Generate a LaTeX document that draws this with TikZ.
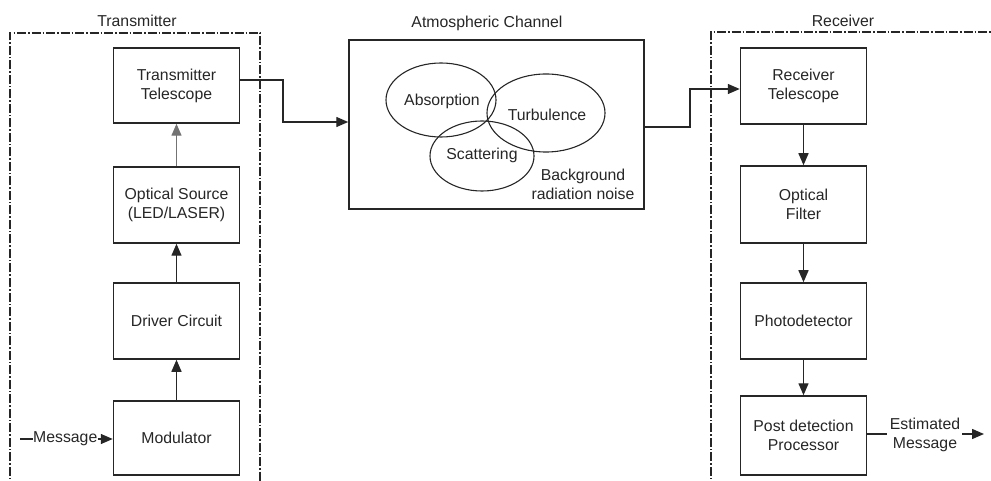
\documentclass[tikz,border=0pt]{standalone}
\usepackage{fontspec}
\setmainfont{Liberation Sans}
\usetikzlibrary{arrows.meta,calc}
\begin{document}
\begin{tikzpicture}[x=1pt,y=-1pt,
  txt/.style={font=\fontsize{15.8}{19}\selectfont, text=black!85, align=center, inner sep=0pt},
  blk/.style={draw=black!85, line width=1.5pt, minimum width=126pt, minimum height=76pt, txt},
  arr/.style={draw=black!85, line width=1.4pt, -{Triangle[length=12pt,width=10pt]}},
  ln/.style={draw=black!85, line width=1.4pt},
  dashbox/.style={draw=black!85, line width=1.3pt, dash pattern=on 9pt off 2pt on 1.5pt off 2pt},
  ell/.style={draw=black!85, line width=1.1pt}]
\useasboundingbox (0,0) rectangle (991,481);
% Transmitter
\node[txt] (txlab) at (137,21) {Transmitter};
\draw[dashbox] (10,490) -- (10,33) -- (260,33) -- (260,490);
\node[blk, minimum height=75pt] (txtel) at (176.5,85.5) {Transmitter\\Telescope};
\node[blk] (src) at (176.5,205) {Optical Source\\(LED/LASER)};
\node[blk] (drv) at (176.5,321) {Driver Circuit};
\node[blk, minimum height=74pt] (mod) at (176.5,438) {Modulator};
\node[txt, anchor=west] (msg) at (33,439) {Message};
\coordinate (msgin) at (20,439);
\draw[ln] (msgin) -- (msg.west);
\draw[arr] (msg.east) -- (mod.west |- msg.east);
\draw[arr] (mod.north) -- (drv.south);
\draw[arr] (drv.north) -- (src.south);
\draw[arr, draw=black!55] (src.north) -- (txtel.south);
% Channel
\node[txt] (chlab) at (487,23) {Atmospheric Channel};
\node[draw=black!85, line width=1.5pt, minimum width=295pt, minimum height=169pt] (chan) at (496.5,124.5) {};
\draw[ell] (441,100) ellipse [x radius=55pt, y radius=37pt];
\draw[ell] (546,113) ellipse [x radius=59pt, y radius=39pt];
\draw[ell] (482,156) ellipse [x radius=52pt, y radius=35pt];
\node[txt] (abs) at (442,101) {Absorption};
\node[txt] (turb) at (547,115) {Turbulence};
\node[txt] (scat) at (482,155) {Scattering};
\node[txt] (bg) at (583,184) {Background\\radiation noise};
% Receiver
\node[txt] (rxlab) at (843,21) {Receiver};
\draw[dashbox] (711,490) -- (711,32) -- (1000,32);
\node[blk] (rxtel) at (803.5,86) {Receiver\\Telescope};
\node[blk, minimum height=77pt] (filt) at (803.5,204.5) {Optical\\Filter};
\node[blk] (pd) at (803.5,321) {Photodetector};
\node[blk, minimum height=79pt] (post) at (803.5,435.5) {Post detection\\Processor};
\draw[arr] (rxtel.south) -- (filt.north);
\draw[arr] (filt.south) -- (pd.north);
\draw[arr] (pd.south) -- (post.north);
\node[txt] (est) at (925,435) {Estimated\\Message};
\coordinate (estout) at (984,434);
\draw[ln] (post.east |- 0,434) -- (887,434);
\draw[arr] (962,434) -- (estout);
% links
\coordinate (a1) at (240,80);
\coordinate (a2) at (283,80);
\coordinate (a3) at (283,122);
\draw[arr] (a1) -- (a2) -- (a3) -- (chan.west |- a3);
\coordinate (b1) at (644,127);
\coordinate (b2) at (690,127);
\coordinate (b3) at (690,89);
\draw[arr] (b1) -- (b2) -- (b3) -- (rxtel.west |- b3);
\end{tikzpicture}
\end{document}
